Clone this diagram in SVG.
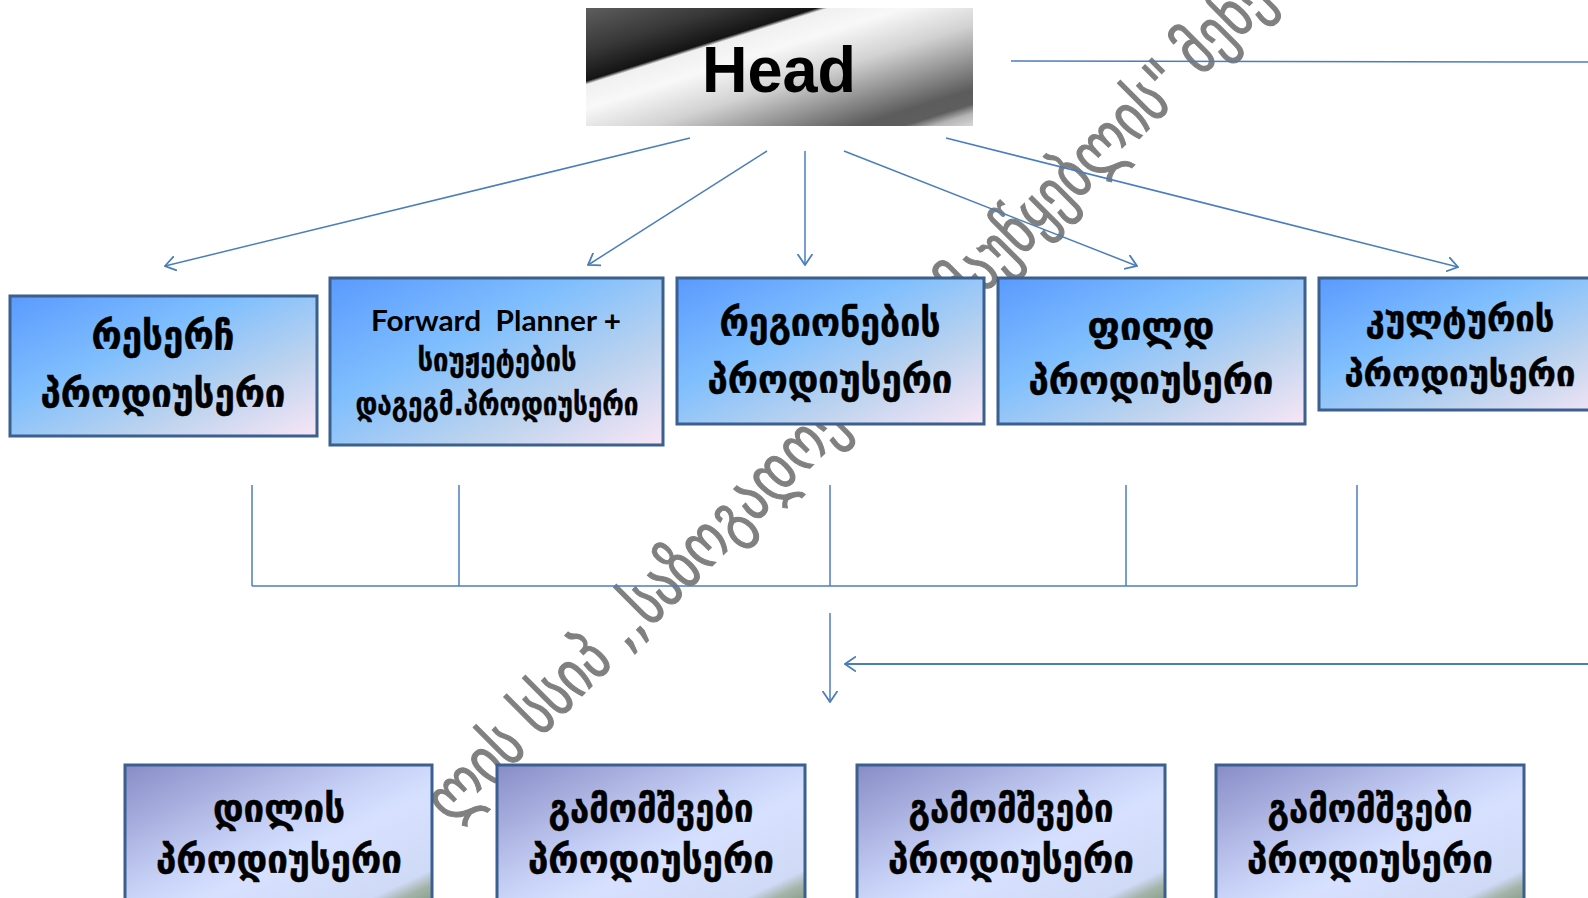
<svg xmlns="http://www.w3.org/2000/svg" width="1588" height="898" viewBox="0 0 1588 898">
<defs>
  <linearGradient id="gHead" gradientUnits="userSpaceOnUse" x1="586" y1="8" x2="655" y2="226">
    <stop offset="0" stop-color="#5e5e5e"/>
    <stop offset="0.18" stop-color="#383838"/>
    <stop offset="0.305" stop-color="#141414"/>
    <stop offset="0.32" stop-color="#f0f0f0"/>
    <stop offset="0.42" stop-color="#f8f8f8"/>
    <stop offset="0.58" stop-color="#d2d2d2"/>
    <stop offset="0.72" stop-color="#959595"/>
    <stop offset="0.85" stop-color="#5c5c5c"/>
    <stop offset="0.91" stop-color="#5e5e5e"/>
    <stop offset="0.95" stop-color="#b5b5b5"/>
    <stop offset="1" stop-color="#d6d6d6"/>
  </linearGradient>
  <linearGradient id="gTop" x1="0" y1="0" x2="1" y2="1">
    <stop offset="0" stop-color="#5a9aff"/>
    <stop offset="0.38" stop-color="#80bffd"/>
    <stop offset="0.7" stop-color="#bdd3ee"/>
    <stop offset="1" stop-color="#f8e6f6"/>
  </linearGradient>
  <linearGradient id="gBot" x1="0" y1="0" x2="1" y2="1">
    <stop offset="0" stop-color="#888cc6"/>
    <stop offset="0.45" stop-color="#c8d2f7"/>
    <stop offset="0.6" stop-color="#d7e1ff"/>
    <stop offset="0.86" stop-color="#cfdaf6"/>
    <stop offset="0.91" stop-color="#a4b4a8"/>
    <stop offset="1" stop-color="#76947a"/>
  </linearGradient>
  <marker id="arr" viewBox="0 0 12 16" refX="11" refY="8" markerWidth="12" markerHeight="16" markerUnits="userSpaceOnUse" orient="auto">
    <path d="M0,0.5 L11,8 L0,15.5" fill="none" stroke="#4a7ebb" stroke-width="1.8"/>
  </marker>
</defs>
<style>
  .conn{stroke:#4a7ebb;stroke-width:1.5;fill:none}
  .arw{marker-end:url(#arr)}
  .tbox{fill:url(#gTop);stroke:#3b5f8e;stroke-width:3}
  .bbox{fill:url(#gBot);stroke:#3b5f8e;stroke-width:3}
  .geo{font-family:"DejaVu Sans",sans-serif;font-weight:bold;font-size:40px;text-anchor:middle;fill:#000;stroke:#000;stroke-width:0.5}
  .geo5{font-family:"DejaVu Sans",sans-serif;font-weight:bold;font-size:36px;text-anchor:middle;fill:#000;stroke:#000;stroke-width:0.5}
  .geos{font-family:"DejaVu Sans",sans-serif;font-weight:bold;font-size:32px;text-anchor:middle;fill:#000;stroke:#000;stroke-width:0.4}
  .lat{font-family:Lato,"Liberation Sans",sans-serif;font-weight:bold;font-size:29px;text-anchor:middle;fill:#000}
  .wm{font-family:"DejaVu Sans",sans-serif;font-size:66px;fill:#808080;stroke:#808080;stroke-width:1.2}
</style>

<text class="wm" transform="translate(452,826) rotate(-45)" textLength="1165" lengthAdjust="spacingAndGlyphs">ლის სსიპ ,,საზოგადოებრივი მაუწყებლის" მენე</text>

<g id="connectors">
  <line class="conn arw" x1="690" y1="138" x2="165" y2="266"/>
  <line class="conn arw" x1="767" y1="151" x2="588" y2="265"/>
  <line class="conn arw" x1="805" y1="151" x2="805" y2="265"/>
  <line class="conn arw" x1="844" y1="151" x2="1137" y2="266"/>
  <line class="conn arw" x1="946" y1="138" x2="1458" y2="267"/>
  <line class="conn" x1="1011" y1="61" x2="1588" y2="62"/>
  <line class="conn" x1="252" y1="485" x2="252" y2="586"/>
  <line class="conn" x1="459" y1="485" x2="459" y2="586"/>
  <line class="conn" x1="830" y1="485" x2="830" y2="586"/>
  <line class="conn" x1="1126" y1="485" x2="1126" y2="586"/>
  <line class="conn" x1="1357" y1="485" x2="1357" y2="586"/>
  <line class="conn" x1="252" y1="586" x2="1357" y2="586"/>
  <line class="conn arw" x1="830" y1="613" x2="830" y2="702"/>
  <line class="conn arw" style="stroke-width:2" x1="1588" y1="664" x2="845" y2="664"/>
</g>

<g id="head">
  <rect x="586" y="8" width="387" height="118" fill="url(#gHead)"/>
  <text x="779" y="92" font-family="'Liberation Sans',Arial,sans-serif" font-weight="bold" font-size="64" text-anchor="middle" fill="#000" textLength="154" lengthAdjust="spacingAndGlyphs">Head</text>
</g>

<g id="research">
  <rect class="tbox" x="10" y="296" width="307" height="140"/>
  <text class="geo" x="163" y="349" textLength="143" lengthAdjust="spacingAndGlyphs">რესერჩ</text>
  <text class="geo" x="163" y="407" textLength="245" lengthAdjust="spacingAndGlyphs">პროდიუსერი</text>
</g>

<g id="forward">
  <rect class="tbox" x="330" y="278" width="333" height="167"/>
  <text class="lat" x="496" y="331" textLength="250" lengthAdjust="spacingAndGlyphs" xml:space="preserve">Forward  Planner +</text>
  <text class="geos" x="497" y="371" textLength="159" lengthAdjust="spacingAndGlyphs">სიუჟეტების</text>
  <text class="geos" x="497" y="415" textLength="283" lengthAdjust="spacingAndGlyphs">დაგეგმ.პროდიუსერი</text>
</g>

<g id="regions">
  <rect class="tbox" x="677" y="278" width="307" height="146"/>
  <text class="geo" x="830" y="336" textLength="221" lengthAdjust="spacingAndGlyphs">რეგიონების</text>
  <text class="geo" x="830" y="393" textLength="245" lengthAdjust="spacingAndGlyphs">პროდიუსერი</text>
</g>

<g id="field">
  <rect class="tbox" x="998" y="278" width="307" height="146"/>
  <text class="geo" x="1151" y="340" textLength="127" lengthAdjust="spacingAndGlyphs">ფილდ</text>
  <text class="geo" x="1151" y="394" textLength="245" lengthAdjust="spacingAndGlyphs">პროდიუსერი</text>
</g>

<g id="culture">
  <rect class="tbox" x="1319" y="278" width="300" height="132"/>
  <text class="geo5" x="1460" y="331" textLength="189" lengthAdjust="spacingAndGlyphs">კულტურის</text>
  <text class="geo5" x="1460" y="386" textLength="231" lengthAdjust="spacingAndGlyphs">პროდიუსერი</text>
</g>

<g id="morning">
  <rect class="bbox" x="125" y="765" width="307" height="145"/>
  <text class="geo" x="279" y="822" textLength="132" lengthAdjust="spacingAndGlyphs">დილის</text>
  <text class="geo" x="279" y="873" textLength="246" lengthAdjust="spacingAndGlyphs">პროდიუსერი</text>
</g>

<g id="release1">
  <rect class="bbox" x="497" y="765" width="308" height="145"/>
  <text class="geo" x="651" y="822" textLength="205" lengthAdjust="spacingAndGlyphs">გამომშვები</text>
  <text class="geo" x="651" y="873" textLength="246" lengthAdjust="spacingAndGlyphs">პროდიუსერი</text>
</g>

<g id="release2">
  <rect class="bbox" x="857" y="765" width="308" height="145"/>
  <text class="geo" x="1011" y="822" textLength="205" lengthAdjust="spacingAndGlyphs">გამომშვები</text>
  <text class="geo" x="1011" y="873" textLength="246" lengthAdjust="spacingAndGlyphs">პროდიუსერი</text>
</g>

<g id="release3">
  <rect class="bbox" x="1216" y="765" width="308" height="145"/>
  <text class="geo" x="1370" y="822" textLength="205" lengthAdjust="spacingAndGlyphs">გამომშვები</text>
  <text class="geo" x="1370" y="873" textLength="246" lengthAdjust="spacingAndGlyphs">პროდიუსერი</text>
</g>
</svg>
